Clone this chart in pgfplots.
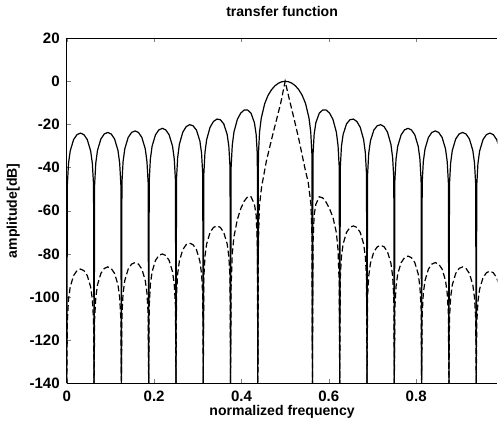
\documentclass[border=0pt]{standalone}
\usepackage{fontspec}
\setmainfont{Liberation Sans}
\usepackage{pgfplots}
\pgfplotsset{compat=1.18}

\begin{document}
\begin{tikzpicture}
\begin{axis}[
    scale only axis,
    width=214.5pt, height=172pt,
    xmin=0, xmax=0.986,
    ymin=-140, ymax=20,
    xtick={0,0.2,0.4,0.6,0.8},
    ytick={-140,-120,-100,-80,-60,-40,-20,0,20},
    axis y line*=left,
    y axis line style={-},
    axis line style={line width=0.6pt},
    tick align=inside,
    major tick length=2pt,
    xticklabel style={/pgf/number format/fixed},
    /pgf/number format/assume math mode=true,
    tick label style={font=\bfseries\fontsize{7.5}{8}\selectfont},
    label style={font=\bfseries\fontsize{7}{8}\selectfont},
    title style={font=\bfseries\fontsize{7}{8}\selectfont, yshift=1pt},
    title={transfer function},
    xlabel={normalized frequency},
    ylabel={amplitude[dB]},
    xlabel style={yshift=5pt},
    ylabel style={yshift=-2pt},
]
% rectangular window (solid)
\addplot[black, line width=0.6pt] coordinates {
(0,-140)
(0.0013,-48.0) (0.0039,-38.2) (0.0078,-32.3) (0.0156,-27.0) (0.0234,-24.7) (0.0313,-24.0) (0.0391,-24.7) (0.0469,-27.0) (0.0547,-32.3) (0.0586,-38.2) (0.0613,-48.0)
(0.0625,-140)
(0.0638,-47.7) (0.0664,-37.9) (0.0703,-32.0) (0.0781,-26.7) (0.0859,-24.4) (0.0938,-23.7) (0.1016,-24.4) (0.1094,-26.7) (0.1172,-32.0) (0.1211,-37.9) (0.1238,-47.7)
(0.125,-140)
(0.1263,-47.0) (0.1289,-37.2) (0.1328,-31.3) (0.1406,-26.0) (0.1484,-23.7) (0.1563,-23.0) (0.1641,-23.7) (0.1719,-26.0) (0.1797,-31.3) (0.1836,-37.2) (0.1863,-47.0)
(0.1875,-140)
(0.1888,-45.8) (0.1914,-36.0) (0.1953,-30.1) (0.2031,-24.8) (0.2109,-22.5) (0.2188,-21.8) (0.2266,-22.5) (0.2344,-24.8) (0.2422,-30.1) (0.2461,-36.0) (0.2488,-45.8)
(0.25,-140)
(0.2513,-45.1) (0.2539,-35.3) (0.2578,-29.2) (0.2656,-23.6) (0.2734,-21.0) (0.2813,-20.1) (0.2891,-20.6) (0.2969,-22.6) (0.3047,-27.6) (0.3086,-33.3) (0.3113,-43.1)
(0.3125,-140)
(0.3138,-43.0) (0.3164,-33.0) (0.3203,-27.0) (0.3281,-21.3) (0.3359,-18.6) (0.3438,-17.5) (0.3516,-17.8) (0.3594,-19.7) (0.3672,-24.6) (0.3711,-30.2) (0.3738,-39.9)
(0.375,-140)
(0.3763,-39.7) (0.3789,-29.7) (0.3828,-23.5) (0.3906,-17.6) (0.3984,-14.7) (0.4063,-13.3) (0.4141,-13.3) (0.4219,-14.8) (0.4297,-19.2) (0.4336,-24.6) (0.4363,-34.1)
(0.4375,-140)
(0.4388,-33.8) (0.4414,-23.5) (0.4453,-17.1) (0.4531,-10.4) (0.4609,-6.5) (0.4688,-3.9) (0.4766,-2.1) (0.4844,-0.9) (0.4922,-0.2) (0.5,0)
(0.5078,-0.2) (0.5156,-0.9) (0.5234,-2.1) (0.5313,-3.9) (0.5391,-6.5) (0.5469,-10.4) (0.5547,-17.1) (0.5586,-23.5) (0.5613,-33.8)
(0.5625,-140)
(0.5638,-34.1) (0.5664,-24.6) (0.5703,-19.2) (0.5781,-14.8) (0.5859,-13.3) (0.5938,-13.3) (0.6016,-14.7) (0.6094,-17.6) (0.6172,-23.5) (0.6211,-29.7) (0.6238,-39.7)
(0.625,-140)
(0.6263,-39.9) (0.6289,-30.2) (0.6328,-24.6) (0.6406,-19.7) (0.6484,-17.8) (0.6563,-17.5) (0.6641,-18.6) (0.6719,-21.3) (0.6797,-27.0) (0.6836,-33.0) (0.6863,-43.0)
(0.6875,-140)
(0.6888,-43.1) (0.6914,-33.3) (0.6953,-27.6) (0.7031,-22.6) (0.7109,-20.6) (0.7188,-20.1) (0.7266,-21.0) (0.7344,-23.6) (0.7422,-29.2) (0.7461,-35.3) (0.7488,-45.1)
(0.75,-140)
(0.7513,-45.8) (0.7539,-36.0) (0.7578,-30.1) (0.7656,-24.8) (0.7734,-22.5) (0.7813,-21.8) (0.7891,-22.5) (0.7969,-24.8) (0.8047,-30.1) (0.8086,-36.0) (0.8113,-45.8)
(0.8125,-140)
(0.8138,-47.0) (0.8164,-37.2) (0.8203,-31.3) (0.8281,-26.0) (0.8359,-23.7) (0.8438,-23.0) (0.8516,-23.7) (0.8594,-26.0) (0.8672,-31.3) (0.8711,-37.2) (0.8738,-47.0)
(0.875,-140)
(0.8763,-47.7) (0.8789,-37.9) (0.8828,-32.0) (0.8906,-26.7) (0.8984,-24.4) (0.9063,-23.7) (0.9141,-24.4) (0.9219,-26.7) (0.9297,-32.0) (0.9336,-37.9) (0.9363,-47.7)
(0.9375,-140)
(0.9388,-48.0) (0.9414,-38.2) (0.9453,-32.3) (0.9531,-27.0) (0.9609,-24.7) (0.9688,-24.0) (0.9766,-24.7) (0.9844,-27.0) (0.9922,-32.3) (0.9961,-38.2) (0.9988,-48.0)
(1,-140)
};
% tapered window (dashed)
\addplot[black, line width=0.6pt, dash pattern=on 3pt off 1.5pt] coordinates {
(0,-140)
(0.0013,-111) (0.0039,-101.2) (0.0078,-95.3) (0.0156,-90) (0.0234,-87.7) (0.0313,-87) (0.0391,-87.7) (0.0469,-90) (0.0547,-95.3) (0.0586,-101.2) (0.0613,-111)
(0.0625,-140)
(0.0638,-110) (0.0664,-100.2) (0.0703,-94.3) (0.0781,-89) (0.0859,-86.7) (0.0938,-86) (0.1016,-86.7) (0.1094,-89) (0.1172,-94.3) (0.1211,-100.2) (0.1238,-110)
(0.125,-140)
(0.1263,-108) (0.1289,-98.2) (0.1328,-92.3) (0.1406,-87) (0.1484,-84.7) (0.1563,-84) (0.1641,-84.7) (0.1719,-87) (0.1797,-92.3) (0.1836,-98.2) (0.1863,-108)
(0.1875,-140)
(0.1888,-104) (0.1914,-94.2) (0.1953,-88.3) (0.2031,-83) (0.2109,-80.7) (0.2188,-80) (0.2266,-80.7) (0.2344,-83) (0.2422,-88.3) (0.2461,-94.2) (0.2488,-104)
(0.25,-140)
(0.2513,-99) (0.2539,-89.2) (0.2578,-83.3) (0.2656,-78) (0.2734,-75.7) (0.2813,-75) (0.2891,-75.7) (0.2969,-78) (0.3047,-83.3) (0.3086,-89.2) (0.3113,-99)
(0.3125,-140)
(0.3138,-91) (0.3164,-81.2) (0.3203,-75.3) (0.3281,-70) (0.3359,-67.7) (0.3438,-67) (0.3516,-67.7) (0.3594,-70) (0.3672,-75.3) (0.3711,-81.2) (0.3738,-91)
(0.375,-140)
(0.3763,-95) (0.3789,-80) (0.3828,-72) (0.3906,-64) (0.3984,-59) (0.4063,-55.5) (0.4141,-53.5) (0.4219,-53.5) (0.4297,-57) (0.4336,-62) (0.4363,-75)
(0.4375,-140)
(0.4388,-75) (0.441,-58) (0.446,-49) (0.457,-37) (0.47,-26) (0.48,-18) (0.49,-10) (0.5,0)
(0.508,-7) (0.52,-17) (0.531,-26.5) (0.545,-40) (0.553,-47) (0.559,-57) (0.5613,-72)
(0.5625,-140)
(0.5638,-75) (0.5664,-62) (0.5703,-57) (0.5781,-53.5) (0.5859,-54) (0.5938,-56) (0.6016,-59) (0.6094,-63) (0.6172,-70) (0.6211,-78) (0.6238,-94)
(0.625,-140)
(0.6263,-91) (0.6289,-81.2) (0.6328,-75.3) (0.6406,-70) (0.6484,-67.7) (0.6563,-67) (0.6641,-67.7) (0.6719,-70) (0.6797,-75.3) (0.6836,-81.2) (0.6863,-91)
(0.6875,-140)
(0.6888,-100) (0.6914,-90.2) (0.6953,-84.3) (0.7031,-79) (0.7109,-76.7) (0.7188,-76) (0.7266,-76.7) (0.7344,-79) (0.7422,-84.3) (0.7461,-90.2) (0.7488,-100)
(0.75,-140)
(0.7513,-105) (0.7539,-95.2) (0.7578,-89.3) (0.7656,-84) (0.7734,-81.7) (0.7813,-81) (0.7891,-81.7) (0.7969,-84) (0.8047,-89.3) (0.8086,-95.2) (0.8113,-105)
(0.8125,-140)
(0.8138,-108) (0.8164,-98.2) (0.8203,-92.3) (0.8281,-87) (0.8359,-84.7) (0.8438,-84) (0.8516,-84.7) (0.8594,-87) (0.8672,-92.3) (0.8711,-98.2) (0.8738,-108)
(0.875,-140)
(0.8763,-110) (0.8789,-100.2) (0.8828,-94.3) (0.8906,-89) (0.8984,-86.7) (0.9063,-86) (0.9141,-86.7) (0.9219,-89) (0.9297,-94.3) (0.9336,-100.2) (0.9363,-110)
(0.9375,-140)
(0.9388,-112) (0.9414,-102.2) (0.9453,-96.3) (0.9531,-91) (0.9609,-88.7) (0.9688,-88) (0.9766,-88.7) (0.9844,-91) (0.9922,-96.3) (0.9961,-102.2) (0.9988,-112)
(1,-140)
};
\end{axis}
\end{tikzpicture}
\end{document}
